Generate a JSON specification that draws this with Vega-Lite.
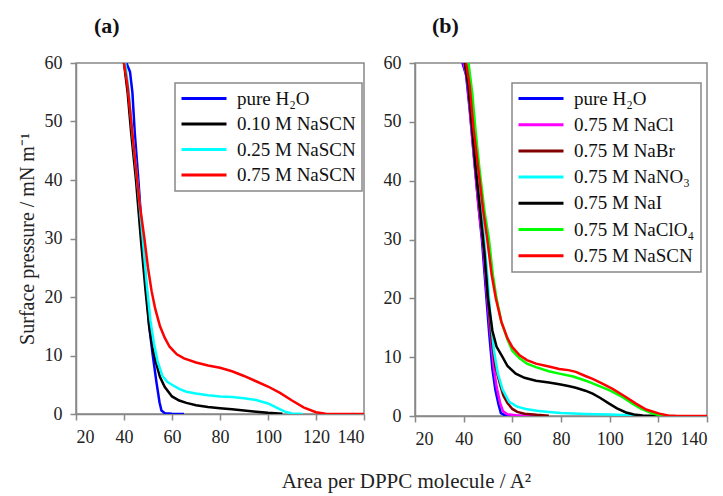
{
 "$schema": "https://vega.github.io/schema/vega-lite/v6.json",
 "background": "white",
 "padding": {"left": 16, "top": 14, "right": 10, "bottom": 4},
 "title": {"text": "Area per DPPC molecule / A²", "orient": "bottom", "anchor": "middle", "font": "Liberation Serif", "fontSize": 21, "fontWeight": "normal", "color": "#222", "dx": 44, "offset": 22},
 "datasets": {
  "a": [
   {"s":"pure H₂O","A":41,"P":60},{"s":"pure H₂O","A":42.5,"P":58.5},{"s":"pure H₂O","A":43.5,"P":55},{"s":"pure H₂O","A":44.5,"P":48},{"s":"pure H₂O","A":46,"P":40},{"s":"pure H₂O","A":47.5,"P":31},{"s":"pure H₂O","A":49,"P":23},{"s":"pure H₂O","A":50.5,"P":15},{"s":"pure H₂O","A":52,"P":10},{"s":"pure H₂O","A":53.5,"P":5.5},{"s":"pure H₂O","A":54.8,"P":2},{"s":"pure H₂O","A":55.6,"P":0.6},{"s":"pure H₂O","A":57,"P":0.15},{"s":"pure H₂O","A":60,"P":0.05},{"s":"pure H₂O","A":65,"P":0},
   {"s":"0.10 M NaSCN","A":40,"P":60},{"s":"0.10 M NaSCN","A":41.5,"P":55},{"s":"0.10 M NaSCN","A":43,"P":48},{"s":"0.10 M NaSCN","A":45,"P":40},{"s":"0.10 M NaSCN","A":47,"P":30},{"s":"0.10 M NaSCN","A":49,"P":21},{"s":"0.10 M NaSCN","A":50.5,"P":15},{"s":"0.10 M NaSCN","A":52,"P":11},{"s":"0.10 M NaSCN","A":53.5,"P":8.5},{"s":"0.10 M NaSCN","A":55,"P":6.3},{"s":"0.10 M NaSCN","A":57,"P":4.6},{"s":"0.10 M NaSCN","A":60,"P":3.0},{"s":"0.10 M NaSCN","A":63,"P":2.3},{"s":"0.10 M NaSCN","A":66,"P":1.9},{"s":"0.10 M NaSCN","A":70,"P":1.5},{"s":"0.10 M NaSCN","A":75,"P":1.2},{"s":"0.10 M NaSCN","A":80,"P":1.0},{"s":"0.10 M NaSCN","A":85,"P":0.8},{"s":"0.10 M NaSCN","A":90,"P":0.6},{"s":"0.10 M NaSCN","A":95,"P":0.4},{"s":"0.10 M NaSCN","A":100,"P":0.2},{"s":"0.10 M NaSCN","A":106,"P":0.05},
   {"s":"0.25 M NaSCN","A":40.5,"P":60},{"s":"0.25 M NaSCN","A":42,"P":55},{"s":"0.25 M NaSCN","A":43.5,"P":48},{"s":"0.25 M NaSCN","A":45.5,"P":40},{"s":"0.25 M NaSCN","A":47.8,"P":30},{"s":"0.25 M NaSCN","A":49.5,"P":22},{"s":"0.25 M NaSCN","A":51,"P":16},{"s":"0.25 M NaSCN","A":52.5,"P":12},{"s":"0.25 M NaSCN","A":54,"P":9},{"s":"0.25 M NaSCN","A":56,"P":6.5},{"s":"0.25 M NaSCN","A":58,"P":5.5},{"s":"0.25 M NaSCN","A":60,"P":5.0},{"s":"0.25 M NaSCN","A":63,"P":4.3},{"s":"0.25 M NaSCN","A":66,"P":3.8},{"s":"0.25 M NaSCN","A":70,"P":3.5},{"s":"0.25 M NaSCN","A":75,"P":3.2},{"s":"0.25 M NaSCN","A":80,"P":3.0},{"s":"0.25 M NaSCN","A":85,"P":2.9},{"s":"0.25 M NaSCN","A":90,"P":2.7},{"s":"0.25 M NaSCN","A":95,"P":2.4},{"s":"0.25 M NaSCN","A":100,"P":1.8},{"s":"0.25 M NaSCN","A":104,"P":1.0},{"s":"0.25 M NaSCN","A":107,"P":0.4},{"s":"0.25 M NaSCN","A":110,"P":0.1},{"s":"0.25 M NaSCN","A":114.5,"P":0},
   {"s":"0.75 M NaSCN","A":40,"P":60},{"s":"0.75 M NaSCN","A":41.5,"P":56},{"s":"0.75 M NaSCN","A":43,"P":50},{"s":"0.75 M NaSCN","A":45,"P":42},{"s":"0.75 M NaSCN","A":46.5,"P":36},{"s":"0.75 M NaSCN","A":48.5,"P":30},{"s":"0.75 M NaSCN","A":50,"P":25},{"s":"0.75 M NaSCN","A":51.5,"P":21},{"s":"0.75 M NaSCN","A":53,"P":18},{"s":"0.75 M NaSCN","A":55,"P":15},{"s":"0.75 M NaSCN","A":57,"P":13},{"s":"0.75 M NaSCN","A":59,"P":11.5},{"s":"0.75 M NaSCN","A":62,"P":10.2},{"s":"0.75 M NaSCN","A":65,"P":9.5},{"s":"0.75 M NaSCN","A":70,"P":8.8},{"s":"0.75 M NaSCN","A":75,"P":8.3},{"s":"0.75 M NaSCN","A":80,"P":7.9},{"s":"0.75 M NaSCN","A":85,"P":7.3},{"s":"0.75 M NaSCN","A":90,"P":6.5},{"s":"0.75 M NaSCN","A":95,"P":5.6},{"s":"0.75 M NaSCN","A":100,"P":4.7},{"s":"0.75 M NaSCN","A":105,"P":3.6},{"s":"0.75 M NaSCN","A":110,"P":2.3},{"s":"0.75 M NaSCN","A":115,"P":1.1},{"s":"0.75 M NaSCN","A":120,"P":0.3},{"s":"0.75 M NaSCN","A":124,"P":0.05},{"s":"0.75 M NaSCN","A":130,"P":0},{"s":"0.75 M NaSCN","A":140,"P":0}
  ],
  "b": [
   {"s":"pure H₂O","A":39.5,"P":60},{"s":"pure H₂O","A":41,"P":58},{"s":"pure H₂O","A":42.5,"P":52},{"s":"pure H₂O","A":44,"P":45},{"s":"pure H₂O","A":46,"P":36},{"s":"pure H₂O","A":47.5,"P":30},{"s":"pure H₂O","A":49,"P":22},{"s":"pure H₂O","A":50.5,"P":14},{"s":"pure H₂O","A":51.8,"P":8},{"s":"pure H₂O","A":53,"P":4.5},{"s":"pure H₂O","A":54.3,"P":2},{"s":"pure H₂O","A":55.3,"P":0.5},{"s":"pure H₂O","A":57,"P":0.1},{"s":"pure H₂O","A":60,"P":0.05},{"s":"pure H₂O","A":65.5,"P":0},
   {"s":"0.75 M NaCl","A":40,"P":60},{"s":"0.75 M NaCl","A":41.5,"P":57},{"s":"0.75 M NaCl","A":43,"P":50},{"s":"0.75 M NaCl","A":44.5,"P":43},{"s":"0.75 M NaCl","A":46.3,"P":35},{"s":"0.75 M NaCl","A":48,"P":29},{"s":"0.75 M NaCl","A":49.5,"P":21},{"s":"0.75 M NaCl","A":51,"P":14},{"s":"0.75 M NaCl","A":52.3,"P":8.5},{"s":"0.75 M NaCl","A":53.5,"P":5},{"s":"0.75 M NaCl","A":55,"P":2.2},{"s":"0.75 M NaCl","A":56.2,"P":0.8},{"s":"0.75 M NaCl","A":58,"P":0.3},{"s":"0.75 M NaCl","A":62,"P":0.1},{"s":"0.75 M NaCl","A":69,"P":0},
   {"s":"0.75 M NaBr","A":40.5,"P":60},{"s":"0.75 M NaBr","A":42,"P":56},{"s":"0.75 M NaBr","A":43.5,"P":49},{"s":"0.75 M NaBr","A":45,"P":42},{"s":"0.75 M NaBr","A":47,"P":34},{"s":"0.75 M NaBr","A":48.5,"P":28},{"s":"0.75 M NaBr","A":50,"P":20},{"s":"0.75 M NaBr","A":51.5,"P":13},{"s":"0.75 M NaBr","A":53,"P":8.5},{"s":"0.75 M NaBr","A":55,"P":5.3},{"s":"0.75 M NaBr","A":56.3,"P":3.5},{"s":"0.75 M NaBr","A":58,"P":2.2},{"s":"0.75 M NaBr","A":60,"P":1.2},{"s":"0.75 M NaBr","A":62,"P":0.7},{"s":"0.75 M NaBr","A":65,"P":0.4},{"s":"0.75 M NaBr","A":70,"P":0.2},{"s":"0.75 M NaBr","A":75,"P":0.05},
   {"s":"0.75 M NaNO₃","A":41.5,"P":60},{"s":"0.75 M NaNO₃","A":43,"P":55},{"s":"0.75 M NaNO₃","A":44.5,"P":48},{"s":"0.75 M NaNO₃","A":46,"P":41},{"s":"0.75 M NaNO₃","A":48,"P":32},{"s":"0.75 M NaNO₃","A":49.5,"P":25},{"s":"0.75 M NaNO₃","A":51,"P":17},{"s":"0.75 M NaNO₃","A":52.5,"P":11},{"s":"0.75 M NaNO₃","A":54,"P":7.3},{"s":"0.75 M NaNO₃","A":56,"P":4.5},{"s":"0.75 M NaNO₃","A":58.7,"P":2.4},{"s":"0.75 M NaNO₃","A":62,"P":1.6},{"s":"0.75 M NaNO₃","A":65.5,"P":1.2},{"s":"0.75 M NaNO₃","A":70,"P":0.9},{"s":"0.75 M NaNO₃","A":75,"P":0.7},{"s":"0.75 M NaNO₃","A":80,"P":0.5},{"s":"0.75 M NaNO₃","A":90,"P":0.35},{"s":"0.75 M NaNO₃","A":100,"P":0.25},{"s":"0.75 M NaNO₃","A":111,"P":0.1},
   {"s":"0.75 M NaI","A":40.5,"P":60},{"s":"0.75 M NaI","A":42,"P":56},{"s":"0.75 M NaI","A":43.5,"P":49},{"s":"0.75 M NaI","A":45,"P":42},{"s":"0.75 M NaI","A":47,"P":34},{"s":"0.75 M NaI","A":48.5,"P":28},{"s":"0.75 M NaI","A":50,"P":20},{"s":"0.75 M NaI","A":51.8,"P":14.5},{"s":"0.75 M NaI","A":53.5,"P":11.8},{"s":"0.75 M NaI","A":56,"P":10},{"s":"0.75 M NaI","A":58,"P":8.5},{"s":"0.75 M NaI","A":61.4,"P":7.2},{"s":"0.75 M NaI","A":65,"P":6.5},{"s":"0.75 M NaI","A":69.7,"P":6.0},{"s":"0.75 M NaI","A":75,"P":5.7},{"s":"0.75 M NaI","A":79.3,"P":5.4},{"s":"0.75 M NaI","A":83,"P":5.1},{"s":"0.75 M NaI","A":86.1,"P":4.8},{"s":"0.75 M NaI","A":90,"P":4.3},{"s":"0.75 M NaI","A":93,"P":3.8},{"s":"0.75 M NaI","A":96,"P":3.1},{"s":"0.75 M NaI","A":99.8,"P":2.1},{"s":"0.75 M NaI","A":103,"P":1.3},{"s":"0.75 M NaI","A":106.7,"P":0.6},{"s":"0.75 M NaI","A":110,"P":0.25},{"s":"0.75 M NaI","A":113.6,"P":0.1},{"s":"0.75 M NaI","A":118,"P":0.03},{"s":"0.75 M NaI","A":122,"P":0},
   {"s":"0.75 M NaClO₄","A":42,"P":60},{"s":"0.75 M NaClO₄","A":43.5,"P":55},{"s":"0.75 M NaClO₄","A":45,"P":48},{"s":"0.75 M NaClO₄","A":46.5,"P":42},{"s":"0.75 M NaClO₄","A":48.5,"P":35},{"s":"0.75 M NaClO₄","A":50.4,"P":30},{"s":"0.75 M NaClO₄","A":52,"P":24},{"s":"0.75 M NaClO₄","A":53.5,"P":20},{"s":"0.75 M NaClO₄","A":55.5,"P":16},{"s":"0.75 M NaClO₄","A":58,"P":13},{"s":"0.75 M NaClO₄","A":60,"P":11.1},{"s":"0.75 M NaClO₄","A":63,"P":9.8},{"s":"0.75 M NaClO₄","A":66,"P":8.9},{"s":"0.75 M NaClO₄","A":69.7,"P":8.3},{"s":"0.75 M NaClO₄","A":75,"P":7.6},{"s":"0.75 M NaClO₄","A":79.3,"P":7.2},{"s":"0.75 M NaClO₄","A":85,"P":6.7},{"s":"0.75 M NaClO₄","A":90.2,"P":6.0},{"s":"0.75 M NaClO₄","A":95,"P":5.2},{"s":"0.75 M NaClO₄","A":99.8,"P":4.4},{"s":"0.75 M NaClO₄","A":105,"P":3.3},{"s":"0.75 M NaClO₄","A":109.4,"P":2.1},{"s":"0.75 M NaClO₄","A":113,"P":1.2},{"s":"0.75 M NaClO₄","A":117.7,"P":0.4},{"s":"0.75 M NaClO₄","A":121,"P":0.1},{"s":"0.75 M NaClO₄","A":125,"P":0},
   {"s":"0.75 M NaSCN","A":41,"P":60},{"s":"0.75 M NaSCN","A":42.5,"P":56},{"s":"0.75 M NaSCN","A":44,"P":49},{"s":"0.75 M NaSCN","A":46,"P":42},{"s":"0.75 M NaSCN","A":48,"P":35},{"s":"0.75 M NaSCN","A":49.7,"P":30},{"s":"0.75 M NaSCN","A":51.5,"P":24},{"s":"0.75 M NaSCN","A":53.2,"P":20},{"s":"0.75 M NaSCN","A":55.5,"P":16},{"s":"0.75 M NaSCN","A":58,"P":13.2},{"s":"0.75 M NaSCN","A":60,"P":11.7},{"s":"0.75 M NaSCN","A":63,"P":10.3},{"s":"0.75 M NaSCN","A":66,"P":9.5},{"s":"0.75 M NaSCN","A":69.7,"P":8.9},{"s":"0.75 M NaSCN","A":75,"P":8.4},{"s":"0.75 M NaSCN","A":79.3,"P":8.0},{"s":"0.75 M NaSCN","A":83,"P":7.8},{"s":"0.75 M NaSCN","A":86.1,"P":7.5},{"s":"0.75 M NaSCN","A":90,"P":6.8},{"s":"0.75 M NaSCN","A":93,"P":6.3},{"s":"0.75 M NaSCN","A":97,"P":5.5},{"s":"0.75 M NaSCN","A":101.2,"P":4.6},{"s":"0.75 M NaSCN","A":106,"P":3.4},{"s":"0.75 M NaSCN","A":110.8,"P":2.1},{"s":"0.75 M NaSCN","A":115,"P":1.1},{"s":"0.75 M NaSCN","A":120.4,"P":0.4},{"s":"0.75 M NaSCN","A":124,"P":0.1},{"s":"0.75 M NaSCN","A":127,"P":0.03},{"s":"0.75 M NaSCN","A":133,"P":0},{"s":"0.75 M NaSCN","A":140,"P":0}
  ]
 },
 "hconcat": [
  {
   "data": {"name": "a"},
   "width": 288, "height": 351,
   "title": {"text": "(a)", "anchor": "start", "frame": "group", "dx": 18, "offset": 16, "font": "Liberation Serif", "fontSize": 22, "fontWeight": "bold", "color": "#111"},
   "mark": {"type": "line", "strokeWidth": 2.5, "clip": true},
   "encoding": {
    "x": {"field": "A", "type": "quantitative", "scale": {"domain": [20, 140], "nice": false}, "axis": {"values": [20,40,60,80,100,120,140], "title": null}},
    "y": {"field": "P", "type": "quantitative", "scale": {"domain": [0, 60], "nice": false}, "axis": {"values": [0,10,20,30,40,50,60], "title": "Surface pressure / mN m⁻¹"}},
    "color": {"field": "s", "type": "nominal",
     "scale": {"domain": ["pure H₂O","0.10 M NaSCN","0.25 M NaSCN","0.75 M NaSCN"], "range": ["#0000ff","#000000","#00ffff","#ff0000"]},
     "legend": {"orient": "none", "legendX": 99, "legendY": 20, "title": null, "rowPadding": 5.5}}
   }
  },
  {
   "data": {"name": "b"},
   "width": 292, "height": 353,
   "title": {"text": "(b)", "anchor": "start", "frame": "group", "dx": 17, "offset": 16, "font": "Liberation Serif", "fontSize": 22, "fontWeight": "bold", "color": "#111"},
   "mark": {"type": "line", "strokeWidth": 2.5, "clip": true},
   "encoding": {
    "x": {"field": "A", "type": "quantitative", "scale": {"domain": [20, 140], "nice": false}, "axis": {"values": [20,40,60,80,100,120,140], "title": null}},
    "y": {"field": "P", "type": "quantitative", "scale": {"domain": [0, 60], "nice": false}, "axis": {"values": [0,10,20,30,40,50,60], "title": null}},
    "color": {"field": "s", "type": "nominal",
     "scale": {"domain": ["pure H₂O","0.75 M NaCl","0.75 M NaBr","0.75 M NaNO₃","0.75 M NaI","0.75 M NaClO₄","0.75 M NaSCN"], "range": ["#0000ff","#ff00ff","#800000","#00ffff","#000000","#00ff00","#ff0000"]},
     "legend": {"orient": "none", "legendX": 97, "legendY": 20, "title": null, "rowPadding": 6.2}}
   }
  }
 ],
 "spacing": 16,
 "resolve": {"scale": {"color": "independent"}, "legend": {"color": "independent"}},
 "config": {
  "font": "Liberation Serif",
  "view": {"stroke": "#888888", "strokeWidth": 1.5},
  "axis": {"grid": false, "domainColor": "#888888", "domainWidth": 1.5, "tickColor": "#888888", "tickWidth": 1.5, "tickSize": 6, "labelFont": "Liberation Serif", "labelFontSize": 18, "labelColor": "#222222", "labelPadding": 8, "titleFont": "Liberation Serif", "titleFontSize": 20, "titleFontWeight": "normal", "titleColor": "#222222", "titlePadding": 7},
  "legend": {"symbolType": "M-1.2,0H4.8", "symbolSize": 225, "symbolStrokeWidth": 3, "symbolFillColor": "transparent", "labelFont": "Liberation Serif", "labelFontSize": 19, "labelColor": "#111111", "labelOffset": 37, "labelLimit": 300, "strokeColor": "#888888", "strokeWidth": 1.5, "fillColor": "white", "padding": 6, "cornerRadius": 0}
 }
}
